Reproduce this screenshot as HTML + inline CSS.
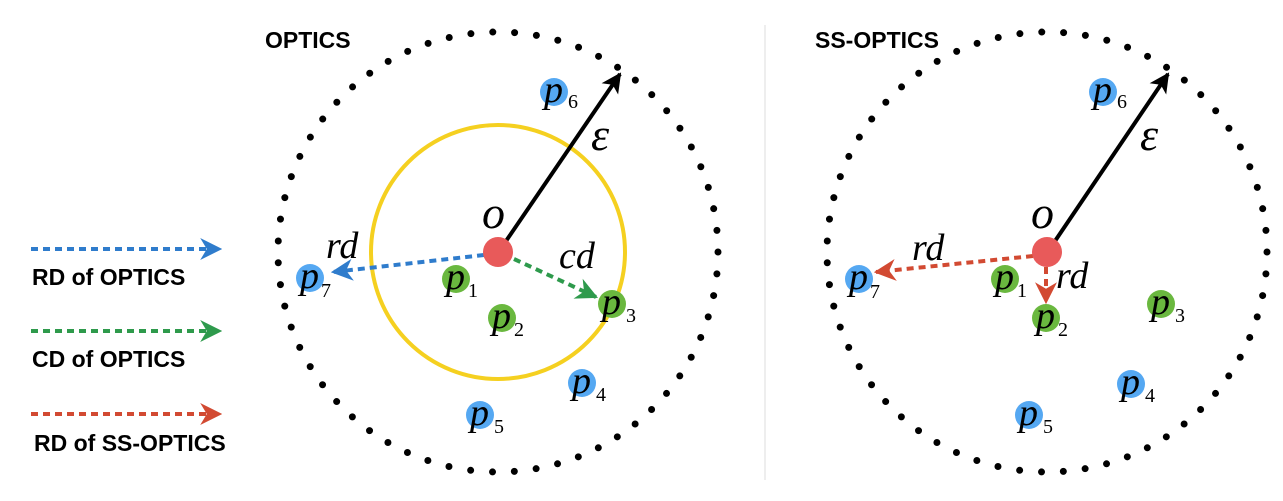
<!DOCTYPE html>
<html><head><meta charset="utf-8"><style>
html,body{margin:0;padding:0;background:#fff}
svg{display:block}
.lg{font-family:"Liberation Sans",sans-serif;font-weight:bold;font-size:23px;fill:#000}
.m{font-family:"Liberation Serif",serif;font-style:italic;fill:#000}
.s{font-family:"Liberation Serif",serif;fill:#000;font-size:20px}
</style></head><body>
<svg width="1283" height="501" viewBox="0 0 1283 501" xmlns="http://www.w3.org/2000/svg">
<defs>
<marker id="ab" viewBox="0 0 10 10" refX="9" refY="5" markerWidth="5.5" markerHeight="5.5" orient="auto" markerUnits="strokeWidth"><path d="M0,0 L10,5 L0,10 L3,5 Z" fill="#2f7ccc"/></marker>
<marker id="ag" viewBox="0 0 10 10" refX="9" refY="5" markerWidth="5.5" markerHeight="5.5" orient="auto" markerUnits="strokeWidth"><path d="M0,0 L10,5 L0,10 L3,5 Z" fill="#2e9a4c"/></marker>
<marker id="ar" viewBox="0 0 10 10" refX="9" refY="5" markerWidth="5.5" markerHeight="5.5" orient="auto" markerUnits="strokeWidth"><path d="M0,0 L10,5 L0,10 L3,5 Z" fill="#d24a32"/></marker>
<marker id="ak" viewBox="0 0 10 10" refX="9" refY="5" markerWidth="5" markerHeight="5" orient="auto" markerUnits="strokeWidth"><path d="M0,0 L10,5 L0,10 L2.5,5 Z" fill="#000"/></marker>
</defs>

<!-- legend -->
<line x1="31" y1="249" x2="220" y2="249" stroke="#2f7ccc" stroke-width="4" stroke-dasharray="7 5" marker-end="url(#ab)"/>
<text x="32" y="285" class="lg">RD of OPTICS</text>
<line x1="31" y1="331" x2="220" y2="331" stroke="#2e9a4c" stroke-width="4" stroke-dasharray="7 5" marker-end="url(#ag)"/>
<text x="32" y="367" class="lg">CD of OPTICS</text>
<line x1="31" y1="414" x2="220" y2="414" stroke="#d24a32" stroke-width="4" stroke-dasharray="7 5" marker-end="url(#ar)"/>
<text x="34" y="451" class="lg">RD of SS-OPTICS</text>

<line x1="765" y1="25" x2="765" y2="480" stroke="#ddd" stroke-width="1"/>

<!-- LEFT -->
<text x="265" y="48" class="lg">OPTICS</text>
<circle cx="498" cy="252" r="220" fill="none" stroke="#000" stroke-width="7" stroke-linecap="round" stroke-dasharray="0 21.94"/>
<circle cx="498" cy="252" r="127" fill="none" stroke="#f5d020" stroke-width="4"/>
<line x1="504" y1="244" x2="620" y2="74" stroke="#000" stroke-width="4" marker-end="url(#ak)"/>
<text x="591" y="150" class="m" font-size="46">ε</text>
<text x="482" y="228" class="m" font-size="46">o</text>
<line x1="484" y1="255" x2="333" y2="272" stroke="#2f7ccc" stroke-width="4" stroke-dasharray="7 5" marker-end="url(#ab)"/>
<line x1="514" y1="259" x2="596" y2="297" stroke="#2e9a4c" stroke-width="4" stroke-dasharray="7 5" marker-end="url(#ag)"/>
<text x="326" y="258" class="m" font-size="38">rd</text>
<text x="559" y="268" class="m" font-size="38">cd</text>
<circle cx="498" cy="252" r="15" fill="#e85a5a"/>

<g>
<circle cx="456" cy="279" r="14" fill="#6ab83f"/><text x="446" y="289" class="m" font-size="38">p</text><text x="468" y="297" class="s">1</text>
<circle cx="502" cy="318" r="14" fill="#6ab83f"/><text x="492" y="328" class="m" font-size="38">p</text><text x="514" y="336" class="s">2</text>
<circle cx="612" cy="304" r="14" fill="#6ab83f"/><text x="602" y="314" class="m" font-size="38">p</text><text x="626" y="322" class="s">3</text>
<circle cx="582" cy="383" r="14" fill="#55a8f2"/><text x="572" y="393" class="m" font-size="38">p</text><text x="596" y="401" class="s">4</text>
<circle cx="480" cy="415" r="14" fill="#55a8f2"/><text x="470" y="425" class="m" font-size="38">p</text><text x="494" y="433" class="s">5</text>
<circle cx="554" cy="92" r="14" fill="#55a8f2"/><text x="544" y="102" class="m" font-size="38">p</text><text x="568" y="108" class="s">6</text>
<circle cx="310" cy="278" r="14" fill="#55a8f2"/><text x="300" y="288" class="m" font-size="38">p</text><text x="321" y="297" class="s">7</text>
</g>

<!-- RIGHT -->
<text x="815" y="48" class="lg">SS-OPTICS</text>
<circle cx="1047" cy="252" r="220" fill="none" stroke="#000" stroke-width="7" stroke-linecap="round" stroke-dasharray="0 21.94"/>
<line x1="1053" y1="244" x2="1168" y2="74" stroke="#000" stroke-width="4" marker-end="url(#ak)"/>
<text x="1140" y="150" class="m" font-size="46">ε</text>
<text x="1031" y="228" class="m" font-size="46">o</text>
<line x1="1033" y1="256" x2="876" y2="272" stroke="#d24a32" stroke-width="4" stroke-dasharray="7 5" marker-end="url(#ar)"/>
<line x1="1046" y1="267" x2="1046" y2="302" stroke="#d24a32" stroke-width="4" stroke-dasharray="7 5" marker-end="url(#ar)"/>
<text x="912" y="260" class="m" font-size="38">rd</text>
<text x="1056" y="288" class="m" font-size="38">rd</text>
<circle cx="1047" cy="252" r="15" fill="#e85a5a"/>

<g>
<circle cx="1005" cy="279" r="14" fill="#6ab83f"/><text x="995" y="289" class="m" font-size="38">p</text><text x="1017" y="297" class="s">1</text>
<circle cx="1046" cy="318" r="14" fill="#6ab83f"/><text x="1036" y="328" class="m" font-size="38">p</text><text x="1058" y="336" class="s">2</text>
<circle cx="1161" cy="304" r="14" fill="#6ab83f"/><text x="1151" y="314" class="m" font-size="38">p</text><text x="1175" y="322" class="s">3</text>
<circle cx="1131" cy="384" r="14" fill="#55a8f2"/><text x="1121" y="394" class="m" font-size="38">p</text><text x="1145" y="402" class="s">4</text>
<circle cx="1029" cy="415" r="14" fill="#55a8f2"/><text x="1019" y="425" class="m" font-size="38">p</text><text x="1043" y="433" class="s">5</text>
<circle cx="1103" cy="92" r="14" fill="#55a8f2"/><text x="1093" y="102" class="m" font-size="38">p</text><text x="1117" y="108" class="s">6</text>
<circle cx="859" cy="279" r="14" fill="#55a8f2"/><text x="849" y="289" class="m" font-size="38">p</text><text x="870" y="298" class="s">7</text>
</g>
</svg>
</body></html>
